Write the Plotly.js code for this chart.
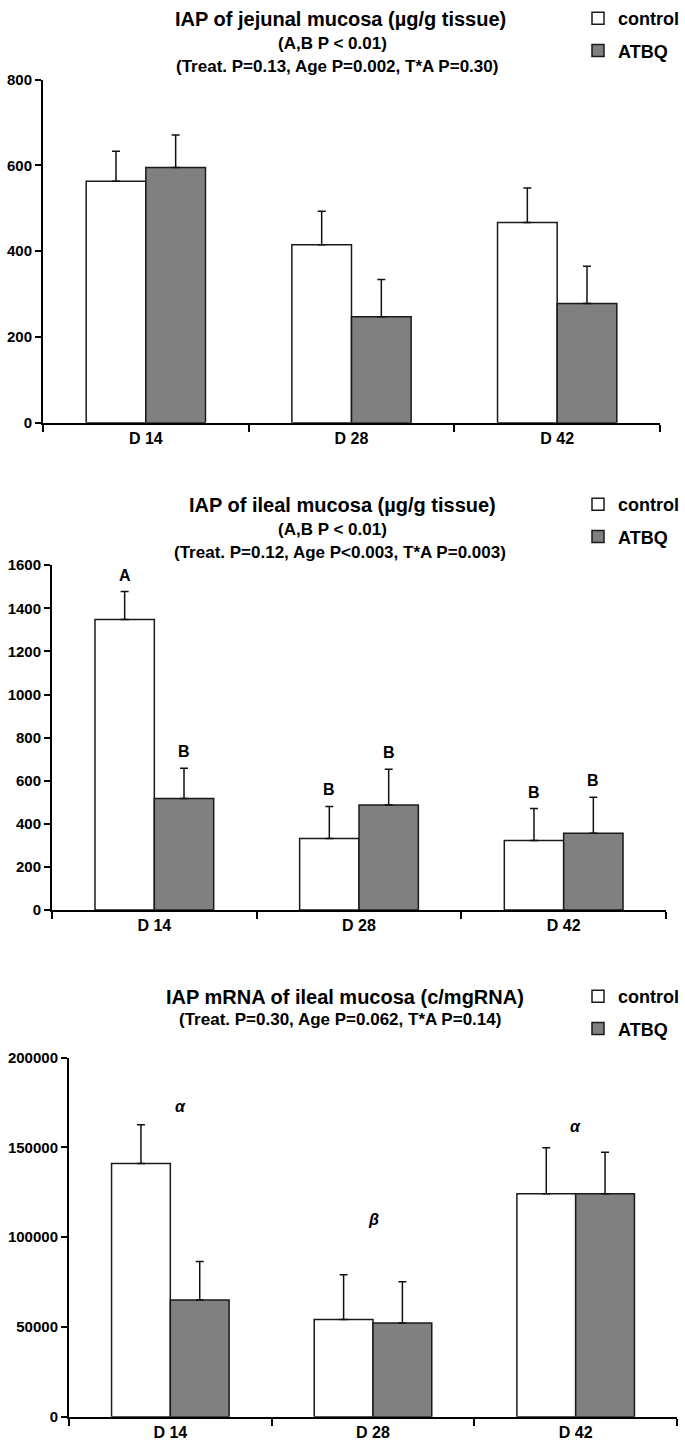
<!DOCTYPE html>
<html>
<head>
<meta charset="utf-8">
<script src="https://cdn.plot.ly/plotly-3.0.1.min.js"></script>
<style>html,body{margin:0;padding:0;background:#fff;}#chart{width:685px;height:1449px;}</style>
</head>
<body>
<div id="chart"></div>
<script>
// ---- data ----
const days = ["D 14", "D 28", "D 42"];
const seriesNames = ["control", "ATBQ"];

// Panel 1: IAP of jejunal mucosa (µg/g tissue)
const jejControl = [563, 415, 467];
const jejControlErr = [70, 78, 80];
const jejATBQ = [595, 247, 278];
const jejATBQErr = [76, 87, 87];

// Panel 2: IAP of ileal mucosa (µg/g tissue)
const ileControl = [1348, 332, 323];
const ileControlErr = [130, 149, 148];
const ileATBQ = [518, 488, 357];
const ileATBQErr = [140, 165, 167];
const ileControlLetters = ["A", "B", "B"];
const ileATBQLetters = ["B", "B", "B"];

// Panel 3: IAP mRNA of ileal mucosa (c/mgRNA)
const mrnaControl = [141000, 54100, 124100];
const mrnaControlErr = [21500, 25000, 25600];
const mrnaATBQ = [65000, 52200, 124100];
const mrnaATBQErr = [21500, 23000, 23100];
const mrnaGroupLetters = ["α", "β", "α"];

const titles = [
  ["IAP of jejunal mucosa (µg/g tissue)", "(A,B P < 0.01)", "(Treat. P=0.13, Age P=0.002, T*A P=0.30)"],
  ["IAP of ileal mucosa (µg/g tissue)", "(A,B P < 0.01)", "(Treat. P=0.12, Age P<0.003, T*A P=0.003)"],
  ["IAP mRNA of ileal mucosa (c/mgRNA)", "(Treat. P=0.30, Age P=0.062, T*A P=0.14)"]
];

// ---- layout helpers ----
const W = 685, H = 1449;
const FONT = "Liberation Sans, Arial, sans-serif";
const px = v => v / W;
const py = v => 1 - v / H;

const panels = [
  {ctrl: jejControl, ce: jejControlErr, atbq: jejATBQ, ae: jejATBQErr, range: [0, 800], dtick: 200,
   xd: [43, 660], yd: [76.7, 420.7], legendTop: -3},
  {ctrl: ileControl, ce: ileControlErr, atbq: ileATBQ, ae: ileATBQErr, range: [0, 1600], dtick: 200,
   xd: [52, 666], yd: [563.4, 909], legendTop: 484},
  {ctrl: mrnaControl, ce: mrnaControlErr, atbq: mrnaATBQ, ae: mrnaATBQErr, range: [0, 200000], dtick: 50000,
   xd: [69, 677], yd: [1056.7, 1416.7], legendTop: 977}
];

const traces = [];
const layout = {
  width: W, height: H,
  margin: {l: 0, r: 0, t: 0, b: 0},
  paper_bgcolor: "#fff", plot_bgcolor: "#fff",
  barmode: "group", bargap: 0.42, bargroupgap: 0,
  showlegend: true,
  font: {family: FONT, color: "#000"},
  annotations: []
};

panels.forEach((p, i) => {
  const n = i === 0 ? "" : String(i + 1);
  const xa = "x" + n, ya = "y" + n;
  const legName = "legend" + n;
  const mk = (name, vals, errs, fill) => ({
    type: "bar", name: name, x: days, y: vals,
    xaxis: xa, yaxis: ya, legend: legName, legendgroup: name + n,
    marker: {color: fill, line: {color: "#1a1a1a", width: 1.5}},
    error_y: {type: "data", symmetric: false, array: errs, arrayminus: errs.map(() => 0),
              color: "#111", thickness: 1.5, width: 4},
    hoverinfo: "skip"
  });
  traces.push(mk(seriesNames[0], p.ctrl, p.ce, "#ffffff"));
  traces.push(mk(seriesNames[1], p.atbq, p.ae, "#808080"));

  layout["xaxis" + n] = {
    domain: [px(p.xd[0]), px(p.xd[1])], anchor: ya, type: "category",
    categoryorder: "array", categoryarray: days,
    showline: true, linecolor: "#000", linewidth: 2,
    ticks: "outside", tickson: "boundaries", ticklen: 7, tickwidth: 2, tickcolor: "#000",
    showgrid: false, zeroline: false, fixedrange: true,
    tickfont: {family: FONT, size: 16, weight: "bold", color: "#000"}
  };
  layout["yaxis" + n] = {
    domain: [py(p.yd[1]), py(p.yd[0])], anchor: xa, range: p.range, dtick: p.dtick, tick0: 0,
    tickformat: "d",
    showline: true, linecolor: "#000", linewidth: 2,
    ticks: "outside", ticklen: 6, tickwidth: 2, tickcolor: "#000",
    showgrid: false, zeroline: false, fixedrange: true,
    tickfont: {family: FONT, size: 15, weight: "bold", color: "#000"}
  };
  layout[legName] = {
    x: px(578), y: py(p.legendTop), xanchor: "left", yanchor: "top",
    bgcolor: "rgba(0,0,0,0)", borderwidth: 0,
    traceorder: "grouped", tracegroupgap: 6,
    font: {family: FONT, size: 18, weight: "bold", color: "#000"}
  };
});

// titles
const titleY = [[16, 41, 64], [503, 528, 551], [996, 1019]];
const titleX = [[340, 332, 337], [342, 332, 340], [345, 340]];
titles.forEach((lines, i) => {
  lines.forEach((t, j) => {
    layout.annotations.push({
      xref: "paper", yref: "paper", x: px(titleX[i][j]), y: py(titleY[i][j]),
      xanchor: "center", yanchor: "middle", showarrow: false, text: "<b>" + t + "</b>",
      font: {family: FONT, size: j === 0 ? 20 : 17, color: "#000"}
    });
  });
});

// letters for panel 2 (above each bar's error bar)
const off = (1 - 0.42) / 4;
days.forEach((d, k) => {
  [[ileControlLetters, ileControl, ileControlErr, -off], [ileATBQLetters, ileATBQ, ileATBQErr, off]].forEach(([L, v, e, o]) => {
    layout.annotations.push({
      xref: "x2", yref: "y2", x: k + o, y: v[k] + e[k], yanchor: "bottom", yshift: 6,
      showarrow: false, text: "<b>" + L[k] + "</b>",
      font: {family: FONT, size: 16, color: "#000"}
    });
  });
});

// greek letters for panel 3 (above each group)
const greekShift = [8, 45, 11];
days.forEach((d, k) => {
  const top = Math.max(mrnaControl[k] + mrnaControlErr[k], mrnaATBQ[k] + mrnaATBQErr[k]);
  layout.annotations.push({
    xref: "x3", yref: "y3", x: k + (k === 0 ? 0.05 : 0), y: top, yanchor: "bottom", yshift: greekShift[k],
    showarrow: false, text: "<b><i>" + mrnaGroupLetters[k] + "</i></b>",
    font: {family: FONT, size: 16, color: "#000"}
  });
});

Plotly.newPlot("chart", traces, layout, {staticPlot: true, displayModeBar: false});
</script>
</body>
</html>
